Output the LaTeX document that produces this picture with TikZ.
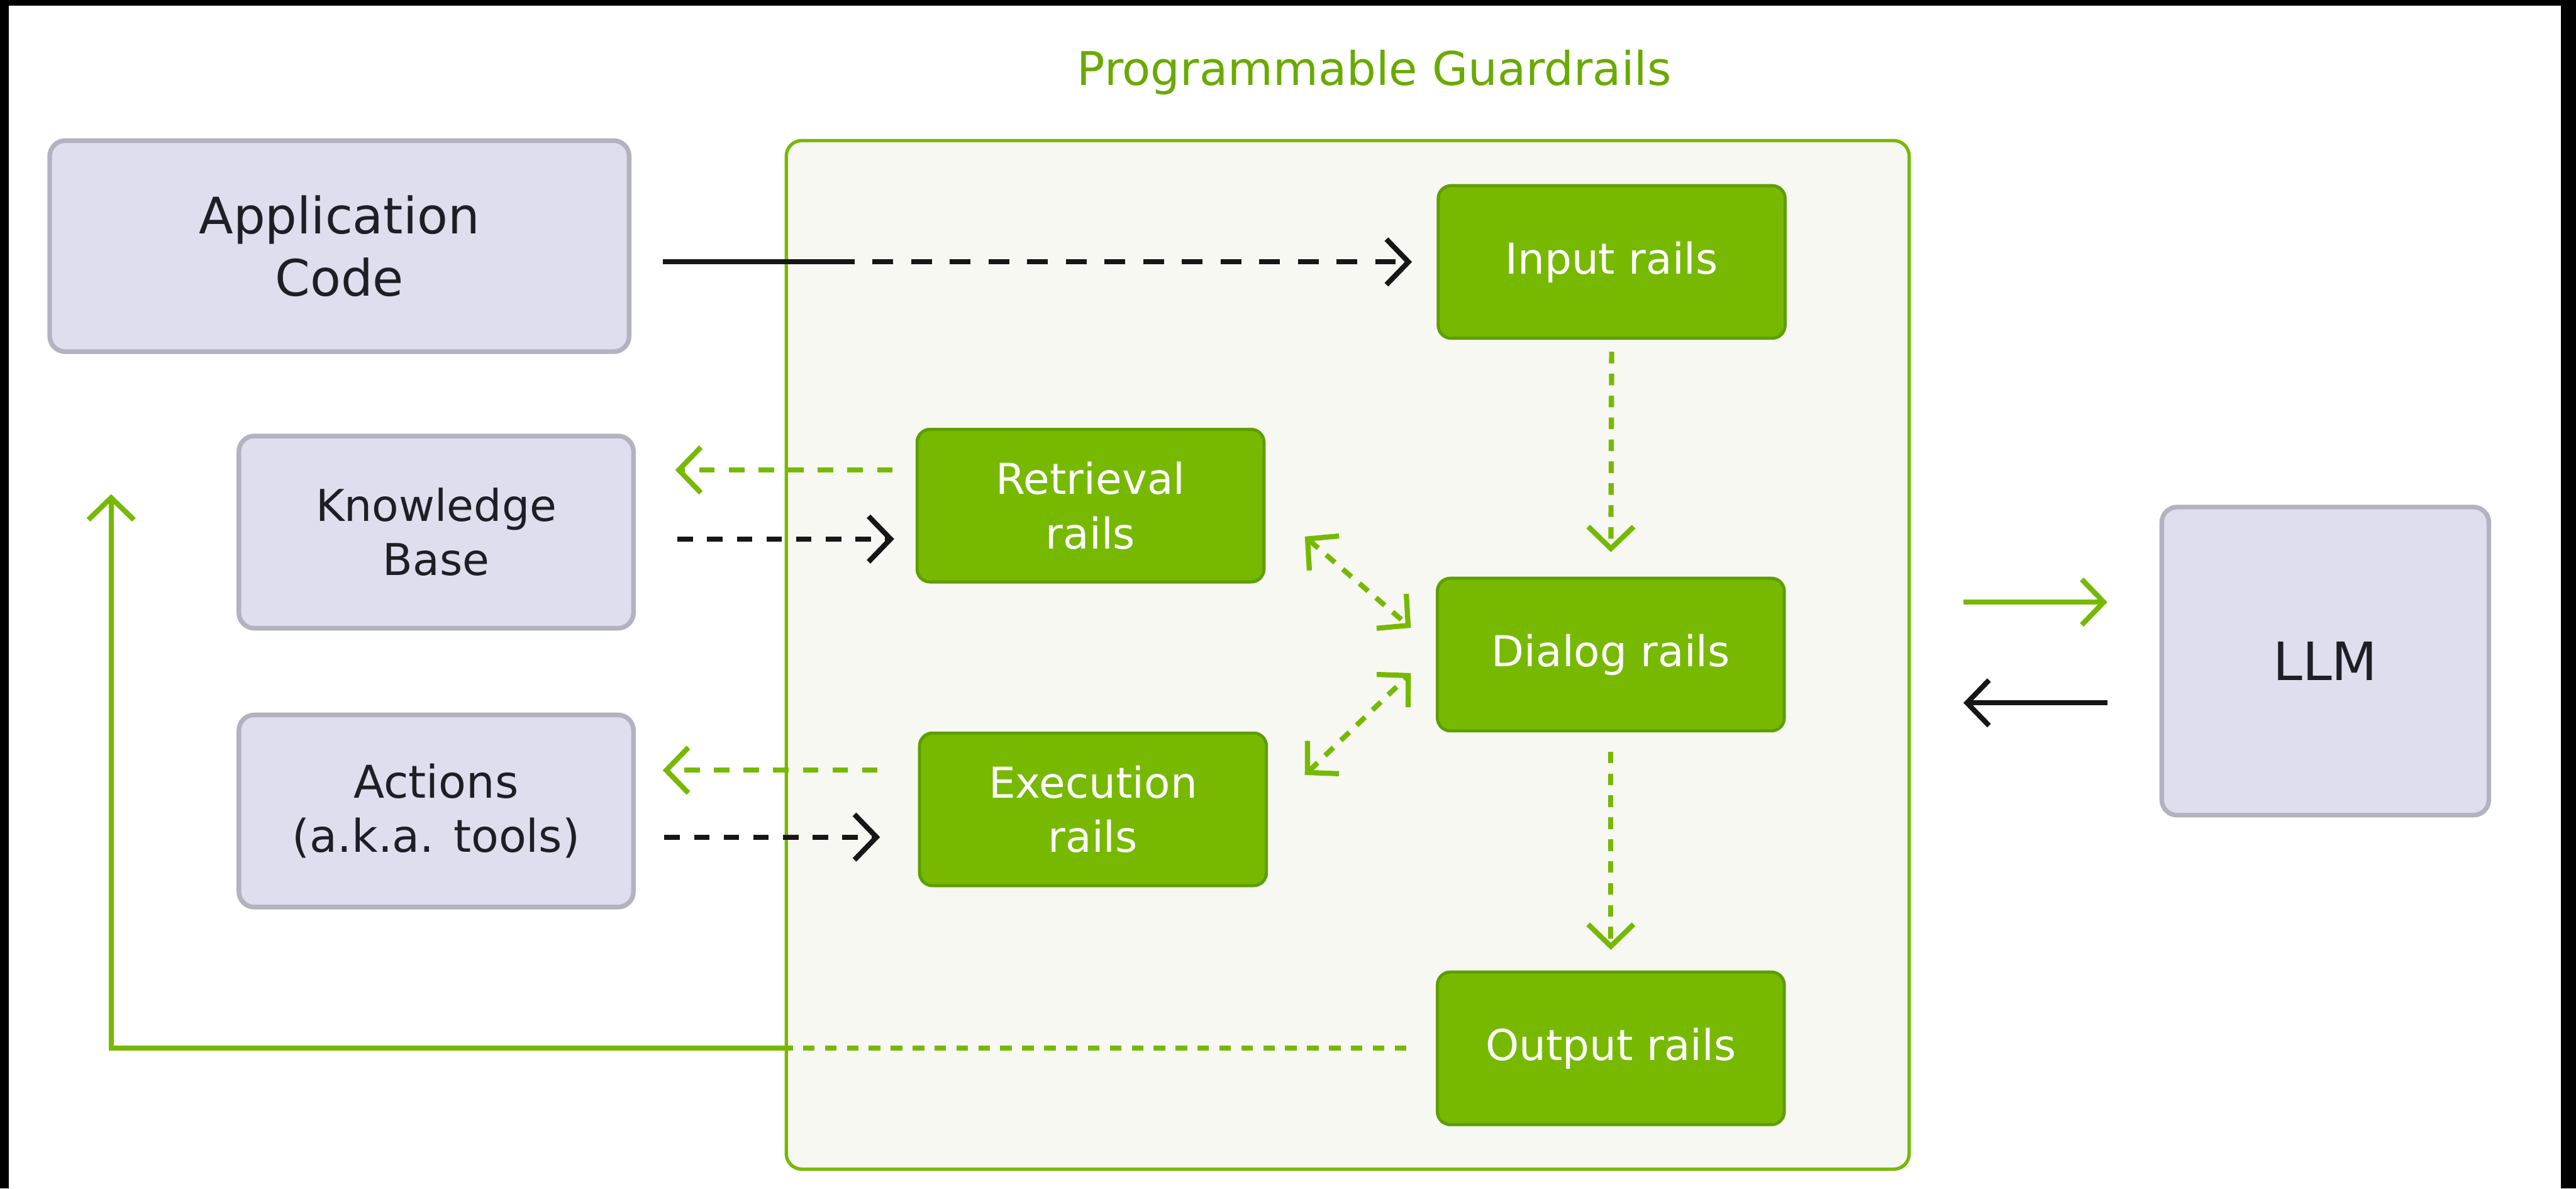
\documentclass[tikz,border=0pt]{standalone}
\usepackage{fontspec}
\setmainfont{DejaVu Sans}
\usetikzlibrary{arrows.meta,calc}
\definecolor{NvGreen}{HTML}{76B900}
\definecolor{NvEdge}{HTML}{5E9E00}
\definecolor{NvTitle}{HTML}{6AAA00}
\definecolor{GrdPale}{HTML}{F7F8F1}
\definecolor{BoxLav}{HTML}{DEDEEE}
\definecolor{BoxEdge}{HTML}{B2B2C0}
\definecolor{InkDark}{HTML}{1E1F26}
\definecolor{LineDark}{HTML}{161616}

\tikzset{
  chev/.tip={Straight Barb[length=3mm,width=6.2mm]},
  outbox/.style={draw=BoxEdge,fill=BoxLav,line width=1.8pt,rounded corners=6pt,
    align=center,text=InkDark,inner sep=0pt},
  railbox/.style={draw=NvEdge,fill=NvGreen,line width=1.2pt,rounded corners=5pt,
    align=center,text=white,inner sep=0pt,minimum width=4.73cm,minimum height=2.08cm,
    font=\fontsize{16.5}{21}\selectfont},
  guardbox/.style={draw=NvGreen,fill=GrdPale,line width=1.3pt,rounded corners=6pt,
    minimum width=15.31cm,minimum height=14.02cm,inner sep=0pt},
  bline/.style={draw=LineDark,line width=2pt},
  gline/.style={draw=NvGreen,line width=2pt},
  bflow/.style={bline,-chev},
  gflow/.style={gline,-chev},
  gduo/.style={gline,chev-chev},
  longdash/.style={dash pattern=on 8pt off 7pt},
  middash/.style={dash pattern=on 6pt off 5.5pt},
  shortdash/.style={dash pattern=on 4.5pt off 4pt},
}

\begin{document}
\begin{tikzpicture}[x=0.0224cm,y=-0.0224cm]
  % frame
  \fill[black] (0,0) rectangle (1568,723.2);
  \fill[white] (5.35,3.57) rectangle (1558.7,723.2);
  \useasboundingbox (0,0) rectangle (1568,723.2);

  % guardrails container
  \node[guardbox] (guard) at (820.35,398.5) {};
  \node[anchor=base,text=NvTitle,font=\fontsize{18}{22}\selectfont] (title) at (836.5,52) {Programmable Guardrails};

  % outside boxes
  \node[outbox,minimum width=7.9cm,minimum height=2.876cm,font=\fontsize{19.5}{24}\selectfont] (app) at (206.6,149.8) {Application\\Code};
  \node[outbox,minimum width=5.38cm,minimum height=2.62cm,font=\fontsize{17}{21}\selectfont] (kb) at (265.5,323.8) {Knowledge\\Base};
  \node[outbox,minimum width=5.38cm,minimum height=2.62cm,font=\fontsize{17.5}{21}\selectfont] (act) at (265.5,493.5) {Actions\\(a.k.a. tools)};
  \node[outbox,minimum width=4.46cm,minimum height=4.2cm,font=\fontsize{20.5}{24}\selectfont] (llm) at (1415.4,402.3) {LLM};

  % rails
  \node[railbox] (inp) at (981,159.4) {Input rails};
  \node[railbox] (ret) at (663.8,307.7) {Retrieval\\rails};
  \node[railbox] (dlg) at (980.5,398.3) {Dialog rails};
  \node[railbox] (exe) at (665.3,492.5) {Execution\\rails};
  \node[railbox] (out) at (980.5,637.9) {Output rails};

  % application code -> input rails
  \coordinate (j1) at ($(guard.west|-inp.west)+(30,0)$);
  \draw[bline] ($(app.east|-inp.west)+(19,0)$) -- (j1);
  \draw[bflow,longdash] (j1) -- ($(inp.west)+(-15,0)$);

  % retrieval / knowledge base
  \draw[gflow,middash] ($(ret.west)+(-14,-21.7)$) -- ($(kb.east|-ret.west)+(24,-21.7)$);
  \draw[bflow,middash] ($(kb.east|-ret.west)+(25.4,20.3)$) -- ($(ret.west)+(-13,20.3)$);

  % execution / actions
  \draw[gflow,middash] ($(exe.west)+(-24.6,-23.8)$) -- ($(act.east|-exe.west)+(16.4,-23.8)$);
  \draw[bflow,middash] ($(act.east|-exe.west)+(17.4,16.9)$) -- ($(exe.west)+(-23.1,16.9)$);

  % rails chain
  \draw[gflow,shortdash] ($(inp.south)+(0,7.3)$) -- ($(dlg.north)+(0,-14.9)$);
  \draw[gflow,shortdash] ($(dlg.south)+(0,11.7)$) -- ($(out.north)+(0,-12.5)$);
  \draw[gduo,shortdash] ($(ret.east)+(23.9,18.8)$) -- ($(dlg.west)+(-15.2,-16.3)$);
  \draw[gduo,shortdash] ($(exe.east)+(22.4,-20.9)$) -- ($(dlg.west)+(-15.2,11.3)$);

  % llm
  \draw[gflow] ($(guard.east|-llm.west)+(32,-35.9)$) -- ($(llm.west)+(-31.7,-35.9)$);
  \draw[bflow] ($(llm.west)+(-31.7,25.4)$) -- ($(guard.east|-llm.west)+(32,25.4)$);

  % output rails back to application
  \coordinate (j2) at (guard.west|-out.west);
  \coordinate (back) at ($(app.south west)+(38.8,85.3)$);
  \draw[gline,shortdash] ($(out.west)+(-18,0)$) -- (j2);
  \draw[gflow] (j2) -- (back|-j2) -- (back);
\end{tikzpicture}
\end{document}
